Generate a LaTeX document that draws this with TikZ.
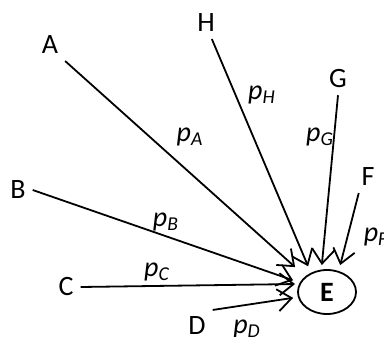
\documentclass[tikz,border=0pt]{standalone}
\usepackage{fontspec}
\setmainfont{Carlito}
\usetikzlibrary{positioning, shapes.geometric, arrows.meta}

\begin{document}
\begin{tikzpicture}[
  x=0.5pt, y=-0.5pt,
  font=\fontsize{14}{16}\selectfont,
  % Source nodes (plain letters)
  src/.style={},
  % Sink node (ellipse)
  sink/.style={ellipse, draw, line width=0.9pt, minimum width=29pt, minimum height=22pt, inner sep=0pt, font=\fontsize{14}{16}\selectfont\bfseries},
  % Rate labels
  rate/.style={inner sep=0pt, font=\fontsize{14}{16}\selectfont\itshape},
  % Flow arrows
  flow/.style={line width=0.9pt, -{Straight Barb[length=7pt,width=11pt]}}
  ]
  \useasboundingbox (0,0) rectangle (384,336);

  % --- Sink ---
  \node[sink] (E) at (327,292) {E};

  % --- Sources ---
  \node[src] (A) at (50,45) {A};
  \node[src] (B) at (18,190) {B};
  \node[src] (C) at (66,287) {C};
  \node[src] (D) at (197,326) {D};
  \node[src] (F) at (368,177) {F};
  \node[src] (G) at (338,79) {G};
  \node[src] (H) at (206,23) {H};

  % --- Flows into E ---
  \draw[flow, shorten >=6.85pt] (A.south east) -- (E.144);
  \draw[flow, shorten >=3.5pt] (B.east) -- (E.161);
  \draw[flow, shorten >=2pt] (C.east) -- (E.164);
  \draw[flow, shorten >=2.4pt] (D.north east) -- (E.190);
  \draw[flow, shorten >=3pt] (F.240) -- (E.61);
  \draw[flow, shorten >=2.25pt] (G.south) -- (E.104);
  \draw[flow, shorten >=3.5pt] (H.-70) -- (E.130);

  % --- Rates ---
  \node[rate] (pA) at (190,137) {p\textsubscript{A}};
  \node[rate] (pB) at (166,222) {p\textsubscript{B}};
  \node[rate] (pC) at (157,272) {p\textsubscript{C}};
  \node[rate] (pD) at (247,329) {p\textsubscript{D}};
  \node[rate] (pF) at (376,237) {p\textsubscript{F}};
  \node[rate] (pG) at (320,137) {p\textsubscript{G}};
  \node[rate] (pH) at (262,95) {p\textsubscript{H}};

\end{tikzpicture}
\end{document}
